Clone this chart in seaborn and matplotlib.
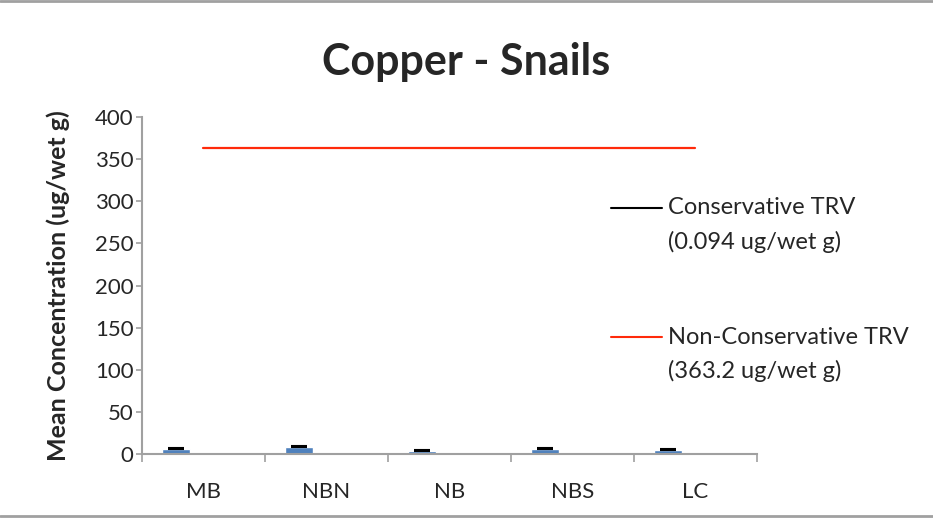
import numpy as np
import pandas as pd
import matplotlib
matplotlib.use("Agg")
import matplotlib.pyplot as plt
from matplotlib.lines import Line2D
import seaborn as sns

categories = ["MB", "NBN", "NB", "NBS", "LC"]
means = [6.0, 8.5, 4.3, 6.3, 5.0]
errors = [1.3, 1.5, 1.2, 1.4, 1.0]
conservative_trv = 0.094
nonconservative_trv = 363.2
y_ticks = [0, 50, 100, 150, 200, 250, 300, 350, 400]
legend_labels = [("Conservative TRV", "(0.094 ug/wet g)"),
                 ("Non-Conservative TRV", "(363.2 ug/wet g)")]

sns.set_theme(style="white")
plt.rcParams["font.family"] = ["Lato", "DejaVu Sans"]

fig = plt.figure(figsize=(9.33, 5.22), dpi=100)
ax = fig.add_axes([0.152, 0.130, 0.659, 0.646])

pos = np.arange(len(categories))
bar_offset = -0.22
df = pd.DataFrame({"pos": pos + bar_offset, "mean": means})
sns.barplot(data=df, x="pos", y="mean", native_scale=True, width=0.23,
            color="#4F81BD", saturation=1, ax=ax, errorbar=None)
ax.errorbar(pos + bar_offset, means, yerr=[np.zeros(len(errors)), errors],
            fmt="none", ecolor="black", elinewidth=0.8, capsize=5.8, capthick=1.5)

line_x = [0, len(categories) - 1]
trv_colors = ["black", "#FF2A0A"]
sns.lineplot(x=line_x, y=[conservative_trv] * 2, color=trv_colors[0], lw=1.4, ax=ax, legend=False)
sns.lineplot(x=line_x, y=[nonconservative_trv] * 2, color=trv_colors[1], lw=1.6, ax=ax, legend=False)

ax.set_xlim(-0.5, len(categories) - 0.5)
ax.set_ylim(0, 400)
ax.set_yticks(y_ticks)
ax.set_yticklabels([str(v) for v in y_ticks], fontsize=16)
ax.set_xticks(pos)
ax.set_xticklabels(categories, fontsize=16)
ax.set_xticks(np.arange(-0.5, len(categories)), minor=True)
ax.tick_params(axis="x", which="major", length=0, pad=20)
ax.tick_params(axis="x", which="minor", length=6, width=1.2, color="#A0A0A0", direction="out", bottom=True)
ax.tick_params(axis="y", length=4.5, width=1.2, color="#A0A0A0", direction="out", left=True, pad=1.5)
ax.set_xlabel("")
ax.set_ylabel("Mean Concentration (ug/wet g)", fontsize=18, fontweight="bold", labelpad=18)
for s in ["top", "right"]:
    ax.spines[s].set_visible(False)
for s in ["left", "bottom"]:
    ax.spines[s].set_color("#A0A0A0")
    ax.spines[s].set_linewidth(1.5)
ax.grid(False)

# legend drawn manually (handle aligned with first text line)
leg_y = [1 - 208 / 522, 1 - 337 / 522]
for (l1, l2), c, y in zip(legend_labels, trv_colors, leg_y):
    fig.add_artist(Line2D([611 / 933, 662 / 933], [y, y], transform=fig.transFigure, color=c, lw=1.5))
    fig.text(668 / 933, y, l1, fontsize=17, va="center", ha="left")
    fig.text(668 / 933, y - 34 / 522, l2, fontsize=17, va="center", ha="left")

fig.text(0.5, 1 - 62 / 522, "Copper - Snails", ha="center", va="center", fontsize=31, fontweight="bold")

fig.add_artist(Line2D([0, 1], [0.998, 0.998], transform=fig.transFigure, color="#A0A0A0", lw=2))
fig.add_artist(Line2D([0, 1], [0.011, 0.011], transform=fig.transFigure, color="#A0A0A0", lw=2))

fig.savefig("out.png", dpi=100)
